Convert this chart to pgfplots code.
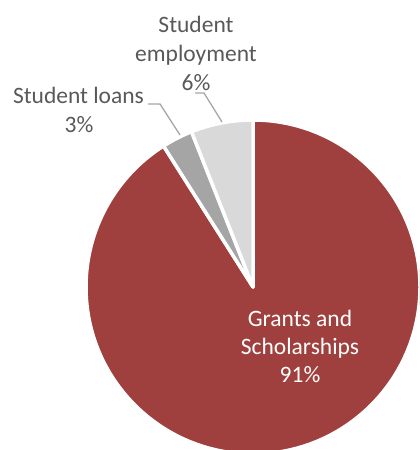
\documentclass[border=0pt]{standalone}
\usepackage{pgfplots}
\usepackage{pgfplotstable}
\pgfplotsset{compat=1.18}
\usepackage{fontspec}
\setmainfont{Carlito}
\definecolor{grantred}{HTML}{A0403E}
\definecolor{loangray}{HTML}{A5A5A5}
\definecolor{emplgray}{HTML}{D9D9D9}
\definecolor{txtgray}{HTML}{595959}
\definecolor{leadgray}{HTML}{A6A6A6}
\tikzset{lbl/.style={anchor=base, inner sep=0pt, font=\fontsize{23.5bp}{28bp}\selectfont}}

\pgfplotstableread{
share colour
91 grantred
3 loangray
6 emplgray
}\piedata

\begin{document}
\begin{tikzpicture}
\begin{axis}[x=1bp,y=1bp,xmin=-253,xmax=166,ymin=-163,ymax=287,
  hide axis,clip=true,clip bounding box=upper bound]
\pgfplotsextra{
  \begin{scope}
  \clip (axis cs:-253,-163) rectangle (axis cs:166,287);
  \xdef\startang{90}
  \foreach \i in {0,1,2}{
    \pgfplotstablegetelem{\i}{share}\of\piedata \let\val\pgfplotsretval
    \pgfplotstablegetelem{\i}{colour}\of\piedata \let\col\pgfplotsretval
    \pgfmathsetmacro\endang{\startang-3.6*\val}
    \fill[fill=\col, draw=white, line width=3.5bp, line join=round]
      (axis cs:0,0) -- (axis cs:{167*cos(\startang)},{167*sin(\startang)})
      arc[start angle=\startang, end angle=\endang, radius=167bp] -- cycle;
    \xdef\startang{\endang}
  }
  \end{scope}
}
\draw[leadgray, line width=1.3bp] (axis cs:-105,183) -- (axis cs:-93,183) -- (axis cs:-73,152);
\draw[leadgray, line width=1.3bp] (axis cs:-58,194) -- (axis cs:-49,194) -- (axis cs:-31,165);
\node[lbl, text=txtgray] at (axis cs:-57,254) {Student};
\node[lbl, text=txtgray] at (axis cs:-57,225) {employment};
\node[lbl, text=txtgray] at (axis cs:-57,196) {6\%};
\node[lbl, text=txtgray] at (axis cs:-174.5,183) {Student loans};
\node[lbl, text=txtgray] at (axis cs:-174,154) {3\%};
\node[lbl, text=white] at (axis cs:47,-40) {Grants and};
\node[lbl, text=white] at (axis cs:47,-68) {Scholarships};
\node[lbl, text=white] at (axis cs:47,-96) {91\%};
\end{axis}
\end{tikzpicture}
\end{document}
